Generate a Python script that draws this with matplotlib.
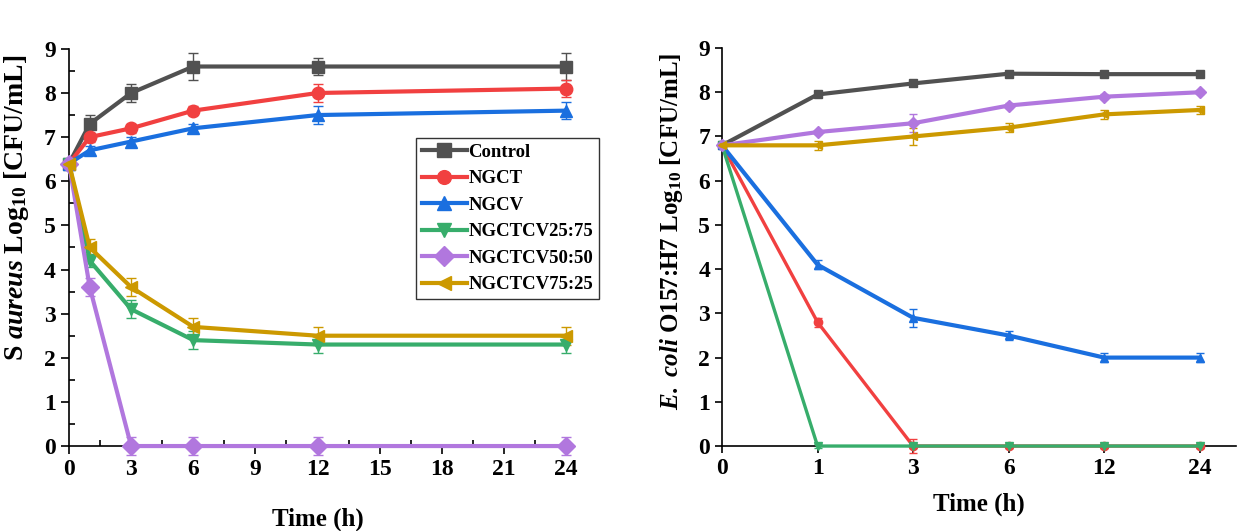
import matplotlib
matplotlib.use("Agg")
import matplotlib.pyplot as plt
from matplotlib.ticker import MultipleLocator

plt.rcParams['font.family'] = 'Liberation Serif'
plt.rcParams['font.weight'] = 'bold'
plt.rcParams['mathtext.fontset'] = 'custom'
plt.rcParams['mathtext.rm'] = 'Liberation Serif:bold'
plt.rcParams['mathtext.it'] = 'Liberation Serif:italic:bold'
plt.rcParams['mathtext.default'] = 'rm'

names = ['Control', 'NGCT', 'NGCV', 'NGCTCV25:75', 'NGCTCV50:50', 'NGCTCV75:25']
colors = ['#515151', '#F14040', '#1A6FDF', '#37AD6B', '#B177DE', '#CC9900']
markers = ['s', 'o', '^', 'v', 'D', '<']

# S. aureus (left panel)
t_left = [0, 1, 3, 6, 12, 24]
sa_control = [6.4, 7.3, 8.0, 8.6, 8.6, 8.6]
sa_ngct = [6.4, 7.0, 7.2, 7.6, 8.0, 8.1]
sa_ngcv = [6.4, 6.7, 6.9, 7.2, 7.5, 7.6]
sa_2575 = [6.4, 4.2, 3.1, 2.4, 2.3, 2.3]
sa_5050 = [6.4, 3.6, 0.0, 0.0, 0.0, 0.0]
sa_7525 = [6.4, 4.5, 3.6, 2.7, 2.5, 2.5]
sa_err_control = [0.1, 0.2, 0.2, 0.3, 0.2, 0.3]
sa_err_ngct = [0.1, 0.1, 0.1, 0.1, 0.2, 0.2]
sa_err_ngcv = [0.1, 0.1, 0.1, 0.1, 0.2, 0.2]
sa_err_2575 = [0.1, 0.15, 0.2, 0.2, 0.2, 0.2]
sa_err_5050 = [0.1, 0.2, 0.2, 0.2, 0.2, 0.2]
sa_err_7525 = [0.1, 0.2, 0.2, 0.2, 0.2, 0.2]

# E. coli O157:H7 (right panel), categorical time axis
t_right = ['0', '1', '3', '6', '12', '24']
ec_control = [6.8, 7.95, 8.2, 8.42, 8.41, 8.41]
ec_ngct = [6.8, 2.8, 0.0, 0.0, 0.0, 0.0]
ec_ngcv = [6.8, 4.1, 2.9, 2.5, 2.0, 2.0]
ec_2575 = [6.8, 0.0, 0.0, 0.0, 0.0, 0.0]
ec_5050 = [6.8, 7.1, 7.3, 7.7, 7.9, 8.0]
ec_7525 = [6.8, 6.8, 7.0, 7.2, 7.5, 7.6]
ec_err_control = [0.05, 0.05, 0.05, 0.05, 0.05, 0.05]
ec_err_ngct = [0.05, 0.1, 0.15, 0.05, 0.05, 0.05]
ec_err_ngcv = [0.05, 0.1, 0.2, 0.1, 0.1, 0.1]
ec_err_2575 = [0.05, 0.05, 0.05, 0.05, 0.05, 0.05]
ec_err_5050 = [0.05, 0.05, 0.2, 0.05, 0.05, 0.05]
ec_err_7525 = [0.05, 0.1, 0.2, 0.1, 0.1, 0.1]

sa = [sa_control, sa_ngct, sa_ngcv, sa_2575, sa_5050, sa_7525]
sa_err = [sa_err_control, sa_err_ngct, sa_err_ngcv, sa_err_2575, sa_err_5050, sa_err_7525]
ec = [ec_control, ec_ngct, ec_ngcv, ec_2575, ec_5050, ec_7525]
ec_err = [ec_err_control, ec_err_ngct, ec_err_ngcv, ec_err_2575, ec_err_5050, ec_err_7525]

fig = plt.figure(figsize=(12.37, 5.31), dpi=100)
ax1 = fig.add_axes([0.0558, 0.160, 0.4018, 0.748])
ax2 = fig.add_axes([0.5837, 0.160, 0.4155, 0.7495])

for y, e, c, m, n in zip(sa, sa_err, colors, markers, names):
    ax1.errorbar(t_left, y, yerr=e, fmt='none', elinewidth=1, capsize=3.5,
                 ecolor=c, clip_on=False, zorder=3)
    ax1.plot(t_left, y, color=c, marker=m, ms=9, lw=3, label=n,
             clip_on=False, zorder=4)

xr = list(range(len(t_right)))
for i, (y, e, c, m) in enumerate(zip(ec, ec_err, colors, markers)):
    lw = 2.4 if i in (1, 3) else 3
    ax2.errorbar(xr, y, yerr=e, fmt='none', elinewidth=1, capsize=3,
                 ecolor=c, clip_on=False, zorder=3)
    ax2.plot(xr, y, color=c, marker=m, ms=6, lw=lw, clip_on=False, zorder=4)

ax1.set_xlim(0, 24)
ax1.set_ylim(0, 9)
ax1.set_xticks([0, 3, 6, 9, 12, 15, 18, 21, 24])
ax1.yaxis.set_major_locator(MultipleLocator(1))
ax1.xaxis.set_minor_locator(MultipleLocator(1.5))
ax1.yaxis.set_minor_locator(MultipleLocator(0.5))
ax1.tick_params(which='major', direction='out', length=6, width=1.2, labelsize=17)
ax1.tick_params(which='minor', direction='in', length=4, width=1.2)
ax1.set_xlabel('Time (h)', fontsize=18, fontweight='bold', labelpad=20)
ax1.set_ylabel(r'S $\mathit{aureus}$ Log$_{10}$ [CFU/mL]', fontsize=20,
               fontweight='bold')
ax1.yaxis.set_label_coords(-0.076, 0.60)

ax2.set_xlim(0, 5.38)
ax2.set_ylim(0, 9)
ax2.set_xticks(xr)
ax2.set_xticklabels(t_right)
ax2.yaxis.set_major_locator(MultipleLocator(1))
ax2.tick_params(which='major', direction='out', length=5, width=1.2, labelsize=17)
ax2.set_xlabel('Time (h)', fontsize=18, fontweight='bold', labelpad=10)
ax2.set_ylabel(r'$\mathit{E.\ coli}$ O157:H7 Log$_{10}$ [CFU/mL]', fontsize=18,
               fontweight='bold')
ax2.yaxis.set_label_coords(-0.072, 0.54)

for ax in (ax1, ax2):
    ax.spines['top'].set_visible(False)
    ax.spines['right'].set_visible(False)
    ax.spines['left'].set_linewidth(1.2)
    ax.spines['bottom'].set_linewidth(1.2)
    for lab in ax.get_xticklabels() + ax.get_yticklabels():
        lab.set_fontweight('bold')

leg = ax1.legend(loc='upper left', bbox_to_anchor=(416 / 1237, 1 - 138 / 531),
                 bbox_transform=fig.transFigure, fontsize=13.5, frameon=True,
                 fancybox=False, edgecolor='black', handlelength=2.4,
                 handletextpad=0.1, borderpad=0.3, labelspacing=0.5,
                 borderaxespad=0, markerscale=1.1)
leg.get_frame().set_linewidth(1.0)
for txt in leg.get_texts():
    txt.set_fontweight('bold')

fig.savefig('out.png', dpi=100)
